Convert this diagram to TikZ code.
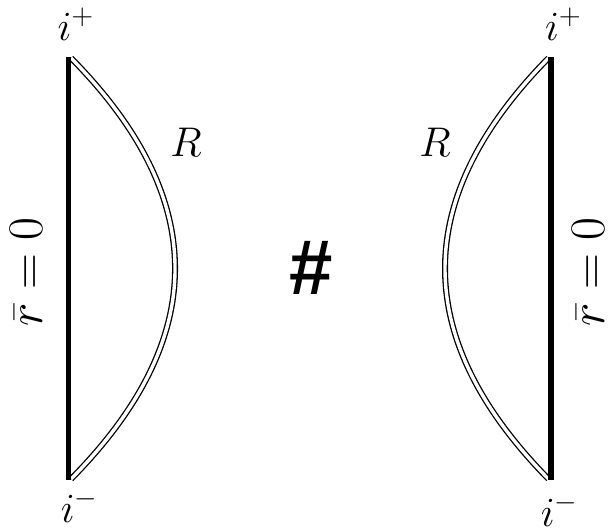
\documentclass[tikz,border=0pt]{standalone}
\usepackage{fontspec}
\newfontfamily\hashfont{Liberation Sans}
\tikzset{wall/.style={line width=2.6pt},
 bdry/.style={double,line width=0.65pt,double distance=1.7pt},
 pt/.style={font=\fontsize{20}{24}\selectfont,anchor=base,inner sep=0pt},
 rlbl/.style={font=\fontsize{22}{26}\selectfont,anchor=base,inner sep=0pt},
 axis/.style={font=\fontsize{23.5}{28}\selectfont,rotate=90,inner sep=0pt}}

\begin{document}
\begin{tikzpicture}[x=0.5pt,y=-0.5pt]
 \useasboundingbox (0,0) rectangle (613,531);
 % left patch
 \coordinate (lt) at (68.5,57); \coordinate (lb) at (68.5,480);
 \coordinate (lct) at (71,58); \coordinate (lcb) at (71,479);
 \draw[bdry] (lct) .. controls (209.7,198.3) and (209.7,338.7) .. (lcb);
 \draw[wall] (lt)--(lb);
 \node[pt] (lip) at (76,40) {$i^+$};
 \node[pt] (lim) at (79.5,522) {$i^-$};
 \node[rlbl] (lR) at (186,156) {$R$};
 \node[axis] (lr0) at (26,272) {$\bar r=0$};
 % right patch
 \coordinate (rt) at (551,57); \coordinate (rb) at (551,480);
 \coordinate (rct) at (548.5,58); \coordinate (rcb) at (548.5,479);
 \draw[bdry] (rct) .. controls (410.5,198.3) and (410.5,338.7) .. (rcb);
 \draw[wall] (rt)--(rb);
 \node[pt] (rip) at (563.5,40) {$i^+$};
 \node[pt] (rim) at (559.5,526) {$i^-$};
 \node[rlbl] (rR) at (435,156) {$R$};
 \node[axis] (rr0) at (588,272) {$\bar r=0$};
 % connected sum
 \node[font=\fontsize{39}{44}\selectfont\hashfont\bfseries] (sum) at (311,268) {\#};
\end{tikzpicture}
\end{document}
